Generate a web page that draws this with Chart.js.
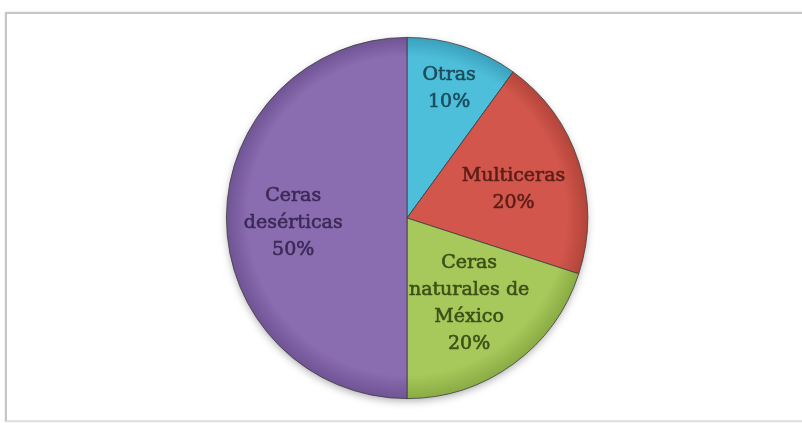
<!DOCTYPE html>
<html>
<head>
<meta charset="utf-8">
<script src="https://cdn.jsdelivr.net/npm/chart.js@4.4.0/dist/chart.umd.min.js"></script>
<style>
  html, body { margin: 0; padding: 0; background: #ffffff; }
  #wrap { position: relative; width: 802px; height: 423px; overflow: hidden; background: #ffffff; }
  #frame { position: absolute; left: 5px; top: 12px; width: 830px; height: 406px;
           border: 2px solid #c6c6c6; border-bottom-color: #e2e2e2; box-shadow: 0 0 2px rgba(0,0,0,0.15); }
  #c { position: absolute; left: 0; top: 0; }
</style>
</head>
<body>
<div id="wrap">
  <div id="frame"></div>
  <canvas id="c" width="802" height="423"></canvas>
</div>
<script>
// ---- data ----
const categories = [['Otras'], ['Multiceras'], ['Ceras', 'naturales de', 'México'], ['Ceras', 'desérticas']];
const shares = [10, 20, 20, 50];

// ---- styles ----
const fillColors = ['#4dbfdb', '#d2564b', '#a7c85a', '#8a6cb0'];
const rimColors  = ['#3a9fbb', '#b2443a', '#8aab43', '#6f5394'];
const textColors = ['#1d4c5a', '#5c1e18', '#3c5018', '#3b2a57'];
const labelRadiusRatio = [0.755, 0.62, 0.585, 0.63];
const labelNudgeY = [0, 6.5, 0, 5];

function sliceFill(ctx) {
  const i = ctx.dataIndex;
  const chart = ctx.chart;
  const area = chart.chartArea;
  if (!area) return fillColors[i];
  const cx = (area.left + area.right) / 2;
  const cy = (area.top + area.bottom) / 2;
  const r = Math.min(area.right - area.left, area.bottom - area.top) / 2;
  const g = chart.ctx.createRadialGradient(cx, cy - r * 0.1, 0, cx, cy, r);
  g.addColorStop(0, fillColors[i]);
  g.addColorStop(0.88, fillColors[i]);
  g.addColorStop(1, rimColors[i]);
  return g;
}

const shadowPlugin = {
  id: 'pieShadow',
  beforeDatasetsDraw(chart) {
    const arc = chart.getDatasetMeta(0).data[0];
    if (!arc) return;
    const p = arc.getProps(['x', 'y', 'outerRadius'], true);
    const c = chart.ctx;
    c.save();
    c.shadowColor = 'rgba(0,0,0,0.35)';
    c.shadowBlur = 8;
    c.shadowOffsetY = 3;
    c.fillStyle = '#888';
    c.beginPath();
    c.arc(p.x, p.y, p.outerRadius - 1, 0, Math.PI * 2);
    c.fill();
    c.restore();
  }
};

const labelPlugin = {
  id: 'sliceLabels',
  afterDatasetsDraw(chart) {
    const meta = chart.getDatasetMeta(0);
    const data = chart.data.datasets[0].data;
    const total = data.reduce((a, b) => a + b, 0);
    const c = chart.ctx;
    c.save();
    c.font = '19px "DejaVu Serif"';
    c.textAlign = 'center';
    c.textBaseline = 'middle';
    c.lineJoin = 'round';
    meta.data.forEach((arc, i) => {
      const p = arc.getProps(['x', 'y', 'startAngle', 'endAngle', 'outerRadius'], true);
      const mid = (p.startAngle + p.endAngle) / 2;
      const rr = p.outerRadius * labelRadiusRatio[i];
      const px = p.x + Math.cos(mid) * rr;
      const py = p.y + Math.sin(mid) * rr + labelNudgeY[i];
      const lines = chart.data.labels[i].concat([Math.round(data[i] / total * 100) + '%']);
      const lh = 27;
      const y0 = py - (lines.length - 1) * lh / 2;
      c.fillStyle = textColors[i];
      c.strokeStyle = textColors[i];
      c.lineWidth = 0.6;
      lines.forEach((t, k) => {
        c.fillText(t, px, y0 + k * lh);
        c.strokeText(t, px, y0 + k * lh);
      });
    });
    c.restore();
  }
};

new Chart(document.getElementById('c'), {
  type: 'pie',
  data: {
    labels: categories,
    datasets: [{
      data: shares,
      backgroundColor: sliceFill,
      borderColor: '#3d3d3d',
      borderWidth: 0.8
    }]
  },
  options: {
    responsive: false,
    animation: false,
    layout: { padding: { top: 37, bottom: 24, left: 12, right: 0 } },
    plugins: {
      legend: { display: false },
      tooltip: { enabled: false }
    }
  },
  plugins: [shadowPlugin, labelPlugin]
});
</script>
</body>
</html>
